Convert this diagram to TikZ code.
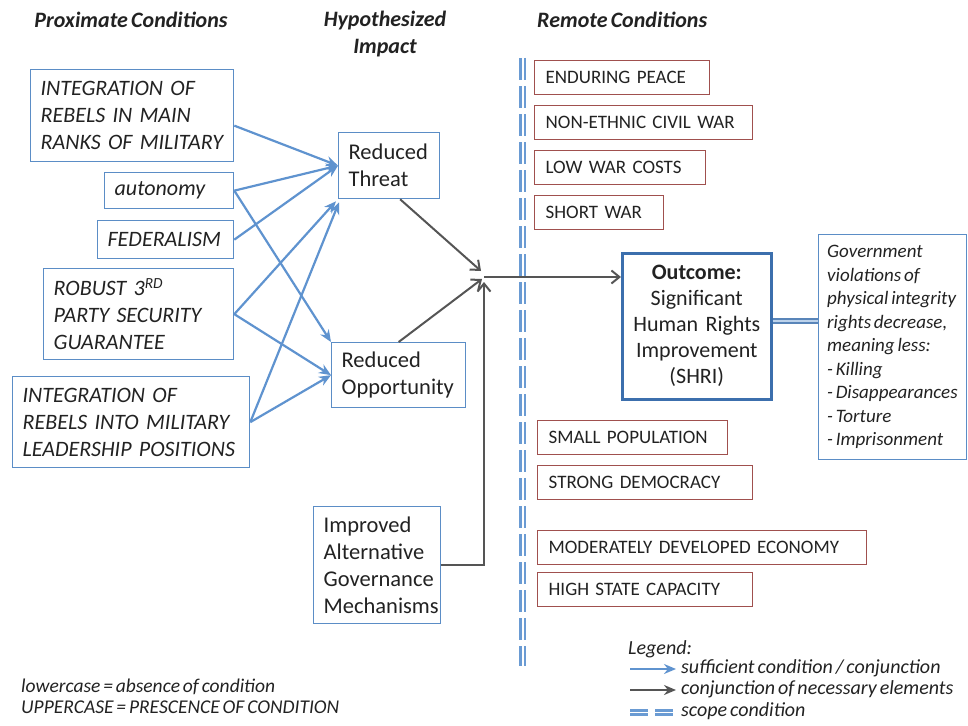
\documentclass[tikz,border=0pt]{standalone}
\usepackage{fontspec}
\setmainfont{Carlito}[WordSpace=0.65]
\usetikzlibrary{arrows.meta,calc}
\definecolor{boxblue}{HTML}{5B8DC6}
\definecolor{arrblue}{HTML}{5F93CF}
\definecolor{outblue}{HTML}{3C6FAD}
\definecolor{boxred}{HTML}{A0504E}
\definecolor{arrgrey}{HTML}{555555}
\definecolor{scopeblue}{HTML}{6A9BD3}
\definecolor{inkgrey}{HTML}{222222}
\newcommand{\fsz}[2]{\fontsize{#1}{#2}\selectfont}
\tikzset{
  every node/.style={text=inkgrey},
  cond/.style={draw=boxblue, line width=1.3pt, anchor=north west, font=\fsz{22}{27}\itshape,
    align=left, inner xsep=10pt, inner ysep=0pt},
  mid/.style={draw=boxblue, line width=1.3pt, anchor=north west, font=\fsz{22.5}{27},
    align=left, inner xsep=10pt, inner ysep=0pt},
  remote/.style={draw=boxred, line width=1.3pt, anchor=north west, font=\fsz{19}{22},
    align=left, inner xsep=11pt, inner ysep=0pt, minimum height=34pt},
  heading/.style={font=\fsz{22}{27}\bfseries\itshape, align=center},
  barrow/.style={draw=arrblue, line width=2.2pt, -{Stealth[length=12pt,width=10pt]}},
  darrow/.style={draw=arrgrey, line width=2pt, -{Straight Barb[length=8pt,width=13pt]}},
  darrowfill/.style={draw=arrgrey, line width=2.4pt, -{Stealth[length=12pt,width=10pt]}},
  scopeline/.style={draw=scopeblue, line width=2.2pt, dash pattern=on 22pt off 6pt},
  legtext/.style={anchor=west, font=\fsz{20}{22}\itshape, inner sep=0pt},
}
\begin{document}
\begin{tikzpicture}[x=1pt,y=-1pt]
\useasboundingbox (0,0) rectangle (968,725);

% column headings
\node[heading] (h1) at (131,20) {Proximate Conditions};
\node[heading] (h2) at (385,34) {Hypothesized\\Impact};
\node[heading, anchor=west, inner xsep=0pt] (h3) at (537,20) {Remote Conditions};

% proximate conditions
\node[cond, minimum width=203pt, minimum height=92pt, text width=183pt] (p1) at (30,69)
  {INTEGRATION OF\\REBELS IN MAIN\\RANKS OF MILITARY};
\node[cond, minimum width=129pt, minimum height=36pt, text width=109pt] (au) at (104,172)
  {autonomy};
\node[cond, minimum width=136pt, minimum height=38pt, text width=116pt] (fe) at (97,220)
  {FEDERALISM};
\node[cond, minimum width=190pt, minimum height=91pt, text width=170pt] (rb3) at (43,268)
  {ROBUST 3\textsuperscript{RD}\\PARTY SECURITY\\GUARANTEE};
\node[cond, minimum width=237pt, minimum height=91pt, text width=217pt] (lp) at (12,376)
  {INTEGRATION OF\\REBELS INTO MILITARY\\LEADERSHIP POSITIONS};

% hypothesized impacts
\node[mid, minimum width=101pt, minimum height=66pt, text width=81pt] (rt) at (338,132)
  {Reduced\\Threat};
\node[mid, minimum width=134pt, minimum height=65pt, text width=114pt] (ro) at (331,342)
  {Reduced\\Opportunity};
\node[mid, minimum width=127pt, minimum height=117pt, text width=107pt] (ia) at (313,506)
  {Improved\\Alternative\\Governance\\Mechanisms};

% remote conditions
\node[remote, minimum width=175pt, text width=153pt] (r1) at (534,60) {ENDURING PEACE};
\node[remote, minimum width=218pt, text width=196pt] (r2) at (534,105) {NON-ETHNIC CIVIL WAR};
\node[remote, minimum width=171pt, text width=149pt] (r3) at (534,150) {LOW WAR COSTS};
\node[remote, minimum width=129pt, text width=107pt] (r4) at (534,195) {SHORT WAR};
\node[remote, minimum width=190pt, text width=168pt] (r5) at (537,420) {SMALL POPULATION};
\node[remote, minimum width=215pt, text width=193pt] (r6) at (537,465) {STRONG DEMOCRACY};
\node[remote, minimum width=329pt, text width=307pt] (r7) at (537,530) {MODERATELY DEVELOPED ECONOMY};
\node[remote, minimum width=215pt, text width=193pt] (r8) at (537,572) {HIGH STATE CAPACITY};

% outcome and its definition
\node[draw=outblue, line width=2.6pt, anchor=north west, minimum width=149pt, minimum height=146pt,
  text width=145pt, align=center, font=\fsz{22}{26}, inner sep=0pt] (out) at (621,252)
  {{\bfseries Outcome:}\\Significant\\Human Rights\\Improvement\\(SHRI)};
\node[draw=boxblue, line width=1.3pt, anchor=north west, minimum width=148pt, minimum height=225pt,
  inner sep=0pt] (def) at (818,234) {};
\node[anchor=west, align=left, font=\fsz{19}{23.5}\itshape, inner sep=0pt] (deftext)
  at ([xshift=9pt]def.west)
  {Government\\violations of\\physical integrity\\rights decrease,\\meaning less:\\- Killing\\- Disappearances\\- Torture\\- Imprisonment};

% scope condition divider
\draw[scopeline] (520.5,58) -- (520.5,666);
\draw[scopeline] (525,58) -- (525,666);

% sufficient conditions
\draw[barrow] ([yshift=-10pt]p1.east) -- (rt.west);
\draw[barrow] (au.east) -- (rt.west);
\draw[barrow] (fe.east) -- (rt.west);
\draw[barrow] (au.east) -- (ro.north west);
\draw[barrow] (rb3.east) -- ([xshift=-2pt,yshift=-2pt]rt.south west);
\draw[barrow] (rb3.east) -- (ro.west);
\draw[barrow] (lp.east) -- ([xshift=1pt,yshift=-3pt]rt.south west);
\draw[barrow] (lp.east) -- (ro.west);

% necessary conjunction
\coordinate (jt) at (481,271);
\coordinate (jo) at (482,279);
\coordinate (jv) at (484,282);
\coordinate (jh) at (484,277);
\draw[darrow] ([xshift=11pt]rt.south) -- (jt);
\draw[darrow] (ro.north) -- (jo);
\draw[darrow] (ia.east) -| (jv);
\draw[darrow] (jh) -- (jh -| out.west);

% outcome definition link
\draw[draw=outblue!85, double=scopeblue!45, double distance=2.2pt, line width=2pt]
  (out.east |- 0,321) -- (def.west |- 0,321);

% legend
\node[legtext] (lg) at (628,649) {Legend:};
\coordinate (la1) at (630,669);
\coordinate (lb1) at (676,669);
\draw[barrow] (la1) -- (lb1);
\node[legtext] (lt1) at (681,668) {sufficient condition / conjunction};
\coordinate (la2) at (630,690);
\coordinate (lb2) at (676,690);
\draw[darrowfill] (la2) -- (lb2);
\node[legtext] (lt2) at (681,689) {conjunction of necessary elements};
\draw[draw=scopeblue, line width=2.2pt] (630,710.5) -- (648,710.5) (655,710.5) -- (673,710.5);
\draw[draw=scopeblue, line width=2.2pt] (630,714.5) -- (648,714.5) (655,714.5) -- (673,714.5);
\node[legtext] (lt3) at (681,711) {scope condition};

% case convention note
\node[anchor=west, font=\fsz{19.5}{21}\itshape, align=left, inner sep=0pt] (note) at (21,696)
  {lowercase = absence of condition\\UPPERCASE = PRESCENCE OF CONDITION};
\end{tikzpicture}
\end{document}
